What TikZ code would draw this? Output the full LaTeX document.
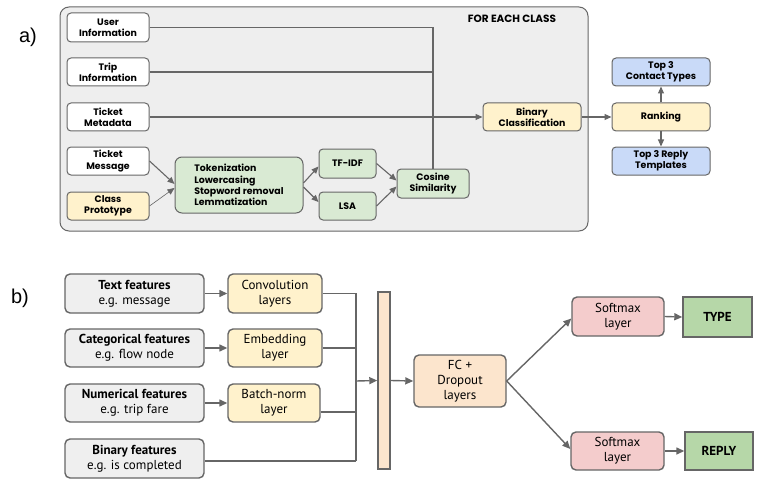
\documentclass[tikz,border=0pt]{standalone}
\usepackage{fontspec}
\setmainfont{Liberation Sans}
\newfontfamily\afont{Poppins}
\newfontfamily\bfont{PT Sans}
\usetikzlibrary{arrows.meta}
\definecolor{bordergray}{HTML}{666666}
\definecolor{outerfill}{HTML}{EEEEEE}
\definecolor{boxgray}{HTML}{EFEFEF}
\definecolor{yel}{HTML}{FFF2CC}
\definecolor{grn}{HTML}{D9EAD3}
\definecolor{blu}{HTML}{C9DAF8}
\definecolor{peach}{HTML}{FCE5CD}
\definecolor{pink}{HTML}{F4CCCC}
\definecolor{dgreen}{HTML}{B6D7A8}
\tikzset{
  abox/.style={draw=bordergray, line width=1pt, rounded corners=4pt, fill=white, align=center,
    font=\afont\fontsize{9.4}{11.2}\selectfont\bfseries, inner sep=0pt},
  bbox/.style={draw=bordergray, line width=1.4pt, rounded corners=5pt, fill=boxgray, align=center,
    font=\bfont\fontsize{13}{15}\selectfont, inner sep=0pt},
  sqbox/.style={draw=bordergray, line width=1.4pt, fill=dgreen, align=center,
    font=\bfont\fontsize{13}{15}\selectfont\bfseries, inner sep=0pt},
  conn/.style={draw=bordergray, line width=1.1pt},
  arr/.style={conn, -{Triangle[length=7pt,width=6pt]}},
  barr/.style={draw=bordergray, line width=1.4pt, -{Triangle[length=8pt,width=7pt]}},
  bconn/.style={draw=bordergray, line width=1.4pt},
  lbl/.style={font=\fontsize{20}{22}\selectfont, inner sep=0pt}
}
\begin{document}
\begin{tikzpicture}[x=1pt,y=-1pt]
\useasboundingbox (0,0) rectangle (768,492);
% ---------- a) ----------
\node[lbl] (la) at (28,37) {a)};
\draw[draw=bordergray, line width=1pt, fill=outerfill, rounded corners=9pt] (60,7) rectangle (588,231);
\node[font=\afont\fontsize{10.5}{12}\selectfont\bfseries, inner sep=0pt] (fec) at (512,19) {FOR EACH CLASS};

\node[abox, minimum width=82pt, minimum height=29pt] (user) at (108,27.5) {User\\Information};
\node[abox, minimum width=82pt, minimum height=28pt] (trip) at (108,72) {Trip\\Information};
\node[abox, minimum width=82pt, minimum height=28pt] (meta) at (108,117) {Ticket\\Metadata};
\node[abox, minimum width=82pt, minimum height=28pt] (msg) at (108,161) {Ticket\\Message};
\node[abox, fill=yel, minimum width=82pt, minimum height=28pt] (proto) at (108,206) {Class\\Prototype};
\node[abox, fill=grn, align=left, minimum width=128pt, minimum height=56pt, rounded corners=7pt] (prep) at (239,185) {Tokenization\\Lowercasing\\Stopword removal\\Lemmatization};
\node[abox, fill=grn, minimum width=57pt, minimum height=29pt] (tfidf) at (347.5,163.5) {TF-IDF};
\node[abox, fill=grn, minimum width=57pt, minimum height=28pt] (lsa) at (347.5,206) {LSA};
\node[abox, fill=grn, minimum width=72pt, minimum height=29pt] (cos) at (433,183.5) {Cosine\\Similarity};
\node[abox, fill=yel, minimum width=98pt, minimum height=28pt] (bincl) at (532,117) {Binary\\Classification};
\node[abox, fill=yel, minimum width=98pt, minimum height=28pt] (rank) at (661,117) {Ranking};
\node[abox, fill=blu, minimum width=98pt, minimum height=28pt] (top3c) at (661,72) {Top 3\\Contact Types};
\node[abox, fill=blu, minimum width=98pt, minimum height=28pt] (top3r) at (661,161) {Top 3 Reply\\Templates};

\coordinate (j1) at (433,27.5);
\coordinate (j2) at (433,72);
\draw[conn] (user.east) -- (j1) -- (cos.north);
\draw[conn] (trip.east) -- (j2);
\draw[arr] (meta.east) -- (bincl.west);
\draw[arr] (msg.east) -- ([yshift=1pt]prep.west);
\draw[conn, -{Triangle[length=7pt,width=6pt]}, line width=0.6pt] (proto.east) -- ([yshift=-3pt]prep.west);
\draw[arr] ([yshift=2pt]prep.east) -- ([yshift=-3pt]tfidf.west);
\draw[arr] ([yshift=-2pt]prep.east) -- ([yshift=4pt]lsa.west);
\draw[arr] (tfidf.east) -- ([yshift=3pt]cos.west);
\draw[arr] (lsa.east) -- ([yshift=-3pt]cos.west);
\draw[arr] (bincl.east) -- (rank.west);
\draw[arr] (rank.north) -- (top3c.south);
\draw[arr] (rank.south) -- (top3r.north);

% ---------- b) ----------
\node[lbl] (lb) at (20,298) {b)};
\node[bbox, minimum width=139pt, minimum height=39pt] (txt) at (134.5,293.5) {\textbf{Text features}\\e.g. message};
\node[bbox, minimum width=139pt, minimum height=38pt] (cat) at (134.5,348) {\textbf{Categorical features}\\e.g. flow node};
\node[bbox, minimum width=139pt, minimum height=38pt] (num) at (134.5,403) {\textbf{Numerical features}\\e.g. trip fare};
\node[bbox, minimum width=139pt, minimum height=39pt] (bin) at (134.5,458.5) {\textbf{Binary features}\\e.g. is completed};
\node[bbox, fill=yel, minimum width=94pt, minimum height=39pt] (conv) at (275,293.5) {Convolution\\layers};
\node[bbox, fill=yel, minimum width=94pt, minimum height=38pt] (emb) at (275,348) {Embedding\\layer};
\node[bbox, fill=yel, minimum width=92pt, minimum height=38pt] (bn) at (274,403) {Batch-norm\\layer};
\node[draw=bordergray, line width=1.4pt, fill=peach, minimum width=12pt, minimum height=177pt, inner sep=0pt] (tall) at (384,380.5) {};
\node[bbox, fill=peach, minimum width=92pt, minimum height=52pt] (fc) at (460,381) {FC +\\Dropout\\layers};
\node[bbox, fill=pink, minimum width=92pt, minimum height=39pt] (sm1) at (618,316.5) {Softmax\\layer};
\node[bbox, fill=pink, minimum width=93pt, minimum height=38pt] (sm2) at (617.5,451) {Softmax\\layer};
\node[sqbox, minimum width=69pt, minimum height=40pt] (type) at (717.5,317) {TYPE};
\node[sqbox, minimum width=68pt, minimum height=38pt] (reply) at (719,451) {REPLY};

\draw[barr] (txt.east) -- (conv.west);
\draw[barr] (cat.east) -- (emb.west);
\draw[barr] (num.east) -- (bn.west);
\coordinate (v1) at (356,293.5);
\coordinate (v2) at (356,348);
\coordinate (v3) at (356,412);
\coordinate (v4) at (356,461);
\coordinate (vm) at (356,381);
\draw[bconn] (conv.east) -- (v1) -- (v4);
\draw[bconn] (emb.east) -- (v2);
\draw[bconn] ([yshift=-9pt]bn.east) -- (v3);
\draw[bconn] ([yshift=-2.5pt]bin.east) -- (v4);
\draw[barr] (vm) -- (tall.west);
\draw[barr] (tall.east) -- (fc.west);
\draw[barr] (fc.east) -- ([yshift=-2pt]sm1.west);
\draw[barr] (fc.east) -- ([yshift=2pt]sm2.west);
\draw[barr] (sm1.east) -- (type.west);
\draw[barr] (sm2.east) -- (reply.west);
\end{tikzpicture}
\end{document}
